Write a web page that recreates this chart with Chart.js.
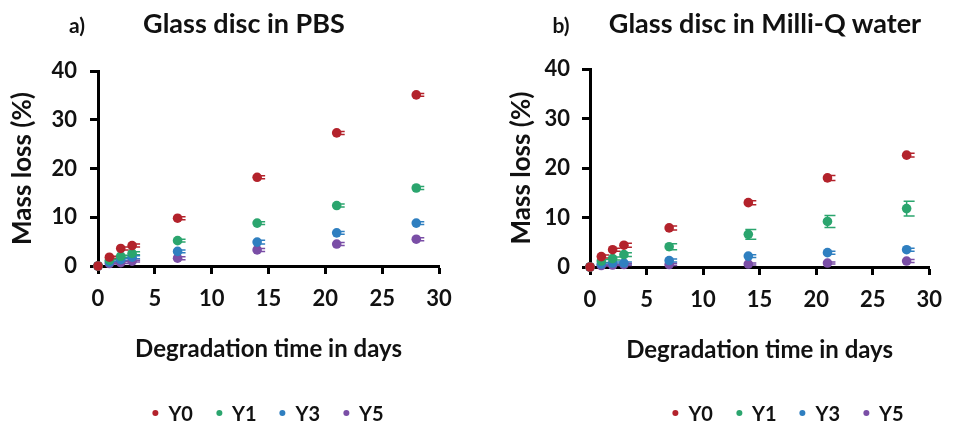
<!DOCTYPE html>
<html>
<head>
<meta charset="utf-8">
<script src="https://cdn.jsdelivr.net/npm/chart.js@4.4.0/dist/chart.umd.min.js"></script>
<style>
    body { margin: 0; background: #fff; width: 954px; height: 427px; overflow: hidden; position: relative;
           font-family: Lato, "Noto Sans", sans-serif; font-weight: bold; color: #111; }
    .panel { position: absolute; top: 0; width: 477px; height: 427px; }
    .panel canvas { position: absolute; left: 0; top: 0; }
    .tag { position: absolute; top: 12px; font-size: 21px; transform: translateX(-50%); }
    .title { position: absolute; top: 6px; font-size: 27px; transform: translateX(-50%); white-space: nowrap; }
    .legend { position: absolute; top: 401px; transform: translateX(-50%); display: flex; gap: 23px;
              font-size: 20px; white-space: nowrap; }
    .legend span { display: flex; align-items: center; }
    .legend i { display: inline-block; width: 6px; height: 6px; border-radius: 50%; margin-right: 10px; }
</style>
</head>
<body>
<div class="panel" style="left:0">
    <canvas id="pbsChart" width="477" height="427"></canvas>
    <div class="tag" style="left:77px">a)</div>
    <div class="title" style="left:244px">Glass disc in PBS</div>
    <div class="legend" id="pbsLegend" style="left:268px"></div>
</div>
<div class="panel" style="left:477px">
    <canvas id="waterChart" width="477" height="427"></canvas>
    <div class="tag" style="left:84px">b)</div>
    <div class="title" style="left:288px">Glass disc in Milli-Q water</div>
    <div class="legend" id="waterLegend" style="left:311px"></div>
</div>
<script>
// Degradation time points (days)
const days = [0, 1, 2, 3, 7, 14, 21, 28];
const seriesNames = ['Y0', 'Y1', 'Y3', 'Y5'];
const xTicks = [0, 5, 10, 15, 20, 25, 30];
const yTicks = [0, 10, 20, 30, 40];

// Mass loss (%) in PBS
const pbsY0 = [0, 1.8, 3.6, 4.2, 9.8, 18.2, 27.3, 35.1];
const pbsY1 = [0, 1.2, 2.0, 2.6, 5.2, 8.8, 12.4, 16.0];
const pbsY3 = [0, 0.8, 1.3, 1.8, 3.0, 4.9, 6.8, 8.8];
const pbsY5 = [0, 0.5, 0.7, 1.0, 1.6, 3.3, 4.5, 5.5];
const pbsErrY0 = [0, 0.2, 0.3, 0.3, 0.3, 0.3, 0.3, 0.3];
const pbsErrY1 = [0, 0.2, 0.2, 0.3, 0.3, 0.3, 0.3, 0.3];
const pbsErrY3 = [0, 0.2, 0.2, 0.3, 0.3, 0.4, 0.3, 0.3];
const pbsErrY5 = [0, 0.1, 0.2, 0.2, 0.3, 0.3, 0.3, 0.3];

// Mass loss (%) in Milli-Q water
const waterY0 = [0, 2.1, 3.5, 4.4, 7.9, 13.0, 18.0, 22.6];
const waterY1 = [0, 1.2, 1.7, 2.5, 4.1, 6.6, 9.2, 11.8];
const waterY3 = [0, 0.6, 0.8, 0.8, 1.3, 2.2, 2.9, 3.5];
const waterY5 = [0, 0.3, 0.4, 0.5, 0.5, 0.6, 0.8, 1.2];
const waterErrY0 = [0, 0.3, 0.3, 0.4, 0.4, 0.4, 0.5, 0.4];
const waterErrY1 = [0, 0.3, 0.3, 0.4, 0.6, 1.0, 1.2, 1.5];
const waterErrY3 = [0, 0.2, 0.2, 0.2, 0.3, 0.3, 0.3, 0.3];
const waterErrY5 = [0, 0.1, 0.1, 0.2, 0.2, 0.2, 0.2, 0.3];

const colors = ['#b3222b', '#2ba56e', '#2f7fc0', '#7a4ea6'];

// Draws the error bars from the dataset's errors array, behind the markers
const errorBars = {
    id: 'errorBars',
    beforeDatasetsDraw(chart) {
        const { ctx, scales: { x, y } } = chart;
        chart.data.datasets.forEach((ds) => {
            ctx.save();
            ctx.strokeStyle = ds.borderColor;
            ctx.lineWidth = 1.5;
            ds.data.forEach((pt, i) => {
                const e = ds.errors[i];
                if (!e) return;
                const px = x.getPixelForValue(pt.x);
                const top = y.getPixelForValue(pt.y + e);
                const bot = y.getPixelForValue(pt.y - e);
                ctx.beginPath();
                ctx.moveTo(px, top); ctx.lineTo(px, bot);
                ctx.moveTo(px - 3, top); ctx.lineTo(px + 8, top);
                ctx.moveTo(px - 3, bot); ctx.lineTo(px + 8, bot);
                ctx.stroke();
            });
            ctx.restore();
        });
    }
};

const tickFont = { family: 'Lato', size: 22, weight: 'bold' };

function makeChart(canvasId, legendId, values, errors, geom) {
    const datasets = values.map((vals, i) => ({
        label: seriesNames[i],
        data: days.map((d, j) => ({ x: d, y: vals[j] })),
        errors: errors[i],
        backgroundColor: colors[i],
        borderColor: colors[i],
        pointRadius: 4.8,
        pointBorderWidth: 0,
        showLine: false,
        clip: false
    }));

    new Chart(document.getElementById(canvasId), {
        type: 'scatter',
        data: { datasets },
        options: {
            responsive: false,
            animation: false,
            layout: { padding: { top: geom.top, right: geom.right, left: 0, bottom: geom.bottom } },
            plugins: { legend: { display: false }, tooltip: { enabled: false } },
            scales: {
                x: {
                    type: 'linear', min: 0, max: 30,
                    afterBuildTicks: (s) => { s.ticks = xTicks.map(v => ({ value: v })); },
                    afterFit: (s) => { s.height = 100; },
                    border: { color: '#000', width: 3 },
                    grid: { drawOnChartArea: false, tickLength: 8, tickWidth: 3, tickColor: '#000' },
                    ticks: { color: '#111', font: tickFont, padding: 12, maxRotation: 0 },
                    title: { display: true, text: 'Degradation time in days', color: '#111',
                             font: { family: 'Lato', size: 24, weight: 'bold' }, padding: { top: 0, bottom: 2 } }
                },
                y: {
                    min: 0, max: 40,
                    afterBuildTicks: (s) => { s.ticks = yTicks.map(v => ({ value: v })); },
                    afterFit: (s) => { s.width = geom.yWidth; },
                    border: { color: '#000', width: 3 },
                    grid: { drawOnChartArea: false, tickLength: 8, tickWidth: 3, tickColor: '#000' },
                    ticks: { color: '#111', font: tickFont, padding: geom.tickPad },
                    title: { display: true, text: 'Mass loss (%)', color: '#111',
                             font: { family: 'Lato', size: 26, weight: 'bold' }, padding: { top: geom.titlePad, bottom: 0 } }
                }
            }
        },
        plugins: [errorBars]
    });

    // HTML legend from the datasets
    const legend = document.getElementById(legendId);
    datasets.forEach(ds => {
        const item = document.createElement('span');
        item.innerHTML = `<i style="background:${ds.backgroundColor}"></i>${ds.label}`;
        legend.appendChild(item);
    });
}

makeChart('pbsChart', 'pbsLegend',
    [pbsY0, pbsY1, pbsY3, pbsY5], [pbsErrY0, pbsErrY1, pbsErrY3, pbsErrY5],
    { top: 71, right: 38, bottom: 61, yWidth: 98, tickPad: 13, titlePad: 7 });

makeChart('waterChart', 'waterLegend',
    [waterY0, waterY1, waterY3, waterY5], [waterErrY0, waterErrY1, waterErrY3, waterErrY5],
    { top: 69, right: 16, bottom: 60, yWidth: 113, tickPad: 12, titlePad: 29 });
</script>
</body>
</html>
